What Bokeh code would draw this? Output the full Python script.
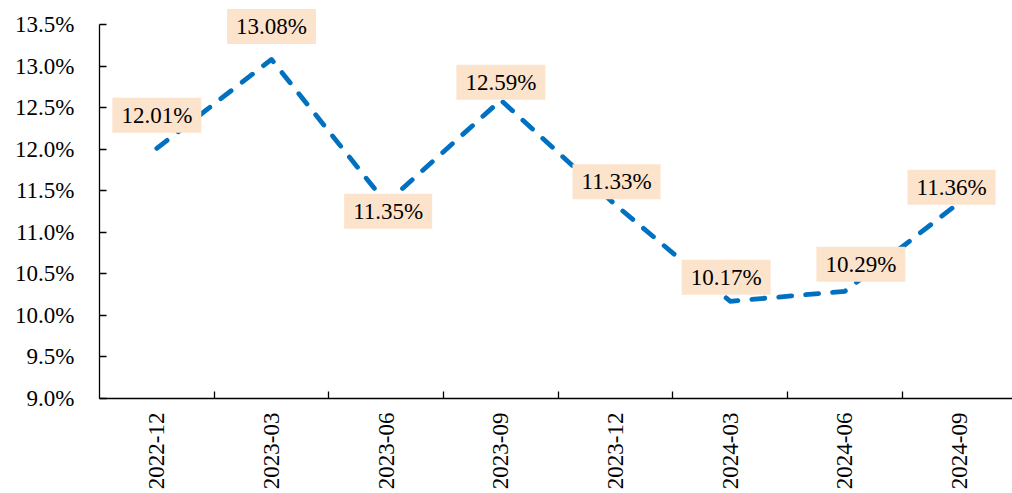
from math import pi

from bokeh.core.properties import value
from bokeh.embed import file_html
from bokeh.models import ColumnDataSource, FixedTicker, PrintfTickFormatter, Range1d
from bokeh.plotting import figure
from bokeh.resources import INLINE

# Quarterly ratio, in percent
quarters = ["2022-12", "2023-03", "2023-06", "2023-09",
            "2023-12", "2024-03", "2024-06", "2024-09"]
ratio = [12.01, 13.08, 11.35, 12.59, 11.33, 10.17, 10.29, 11.36]
y_ticks = [9.0, 9.5, 10.0, 10.5, 11.0, 11.5, 12.0, 12.5, 13.0, 13.5]

# Screen offsets (px) of each value label from its point
label_dx = [0, 0, 2, 0, 1, -4, 16, -8]
label_dy = [-33, -33, 8, -18, -23, -24, -27, -15]

FONT = "Liberation Serif"
BLUE = "#0070C0"

xs = [i + 0.5 for i in range(len(quarters))]
src = ColumnDataSource(dict(
    x=xs, y=ratio,
    label=[f"{v:.2f}%" for v in ratio],
    dx=label_dx, dy=label_dy,
))

px_per_unit = 83.0
p = figure(
    width=1012, height=493,
    output_backend="svg", toolbar_location=None,
    x_range=Range1d(0, 913 / 114.67),
    y_range=Range1d(9.0, 13.5 + 24 / px_per_unit),
    min_border_left=99, min_border_right=0,
    min_border_top=0, min_border_bottom=95,
)
p.outline_line_color = None
p.grid.visible = False
p.background_fill_color = "white"
p.border_fill_color = "white"

p.line("x", "y", source=src, line_color=BLUE, line_width=4.8,
       line_dash="13 14", line_cap="round", line_join="round")

p.text("x", "y", text="label", source=src,
       x_offset="dx", y_offset="dy",
       text_font=value(FONT), text_font_size="23px", text_color="black",
       text_align="center", text_baseline="middle",
       background_fill_color="#FCE3CB", padding=[9, 5])

# y axis
ya = p.yaxis[0]
ya.bounds = (9.0, 13.5)
ya.ticker = FixedTicker(ticks=y_ticks)
ya.formatter = PrintfTickFormatter(format="%.1f%%")
ya.axis_line_color = "black"
ya.axis_line_width = 1.3
ya.major_tick_line_color = "black"
ya.major_tick_line_width = 1.3
ya.major_tick_in = 7
ya.major_tick_out = 0
ya.minor_tick_line_color = None
ya.major_label_standoff = 25
ya.major_label_text_font = FONT
ya.major_label_text_font_size = "23px"
ya.major_label_text_color = "black"

# x axis: labels at category centres, tick marks at boundaries
xa = p.xaxis[0]
xa.ticker = FixedTicker(ticks=xs, minor_ticks=list(range(1, len(quarters))))
xa.major_label_overrides = {x: q for x, q in zip(xs, quarters)}
xa.axis_line_color = "black"
xa.axis_line_width = 1.3
xa.major_tick_line_color = None
xa.major_tick_in = 0
xa.major_tick_out = 0
xa.minor_tick_line_color = "black"
xa.minor_tick_line_width = 1.3
xa.minor_tick_in = 7
xa.minor_tick_out = 0
xa.major_label_orientation = pi / 2
xa.major_label_standoff = 14
xa.major_label_text_font = FONT
xa.major_label_text_font_size = "23px"
xa.major_label_text_color = "black"

open("out.html", "w").write(file_html(p, INLINE))
